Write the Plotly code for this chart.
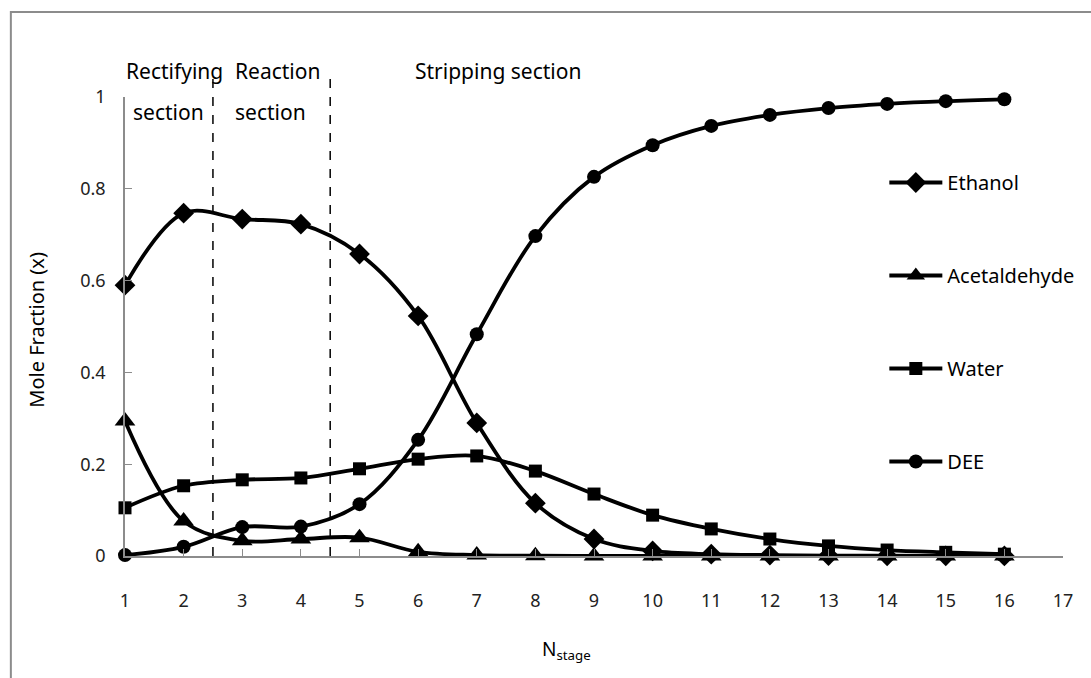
import plotly.graph_objects as go

stages = list(range(1, 17))
ethanol = [0.590, 0.747, 0.734, 0.723, 0.658, 0.523, 0.290, 0.115, 0.037, 0.011, 0.004, 0.002, 0.001, 0.0005, 0.0003, 0.0002]
acetaldehyde = [0.294, 0.076, 0.033, 0.037, 0.040, 0.009, 0.002, 0.0005, 0.0002, 0.0001, 0.0, 0.0, 0.0, 0.0, 0.0, 0.0]
water = [0.105, 0.153, 0.166, 0.170, 0.190, 0.211, 0.218, 0.185, 0.135, 0.089, 0.059, 0.037, 0.022, 0.013, 0.008, 0.004]
dee = [0.002, 0.020, 0.063, 0.064, 0.113, 0.253, 0.483, 0.697, 0.826, 0.895, 0.937, 0.961, 0.976, 0.985, 0.991, 0.995]

series = [
    ("Ethanol", ethanol, "diamond", 16),
    ("Acetaldehyde", acetaldehyde, "triangle-up", 18),
    ("Water", water, "square", 13),
    ("DEE", dee, "circle", 14),
]
section_bounds = [2.5, 4.5]
x_ticks = list(range(1, 18))
y_ticks = [0, 0.2, 0.4, 0.6, 0.8, 1]
y_tick_text = ["0", "0.2", "0.4", "0.6", "0.8", "1"]

FONT = "Noto Sans"
fig = go.Figure()
for name, vals, sym, sz in series:
    fig.add_trace(go.Scatter(
        x=stages, y=vals, name=name, mode="lines+markers",
        line=dict(color="black", width=3.8, shape="spline", smoothing=1.0),
        marker=dict(symbol=sym, size=sz, color="black"),
        cliponaxis=False, legendgroup=name,
    ))

for xb in section_bounds:
    fig.add_shape(type="line", xref="x", yref="paper", x0=xb, x1=xb, y0=0, y1=(556 - 72) / 459,
                  line=dict(color="black", width=1.5, dash="dash"))

# outer frame
fig.add_shape(type="rect", xref="paper", yref="paper",
              x0=(10 - 125) / 945, x1=1.2, y0=-0.5, y1=(556 - 12) / 459,
              line=dict(color="#8c8c8c", width=2), layer="below")

ann_font = dict(family=FONT, size=21, color="black")
def ann(text, px, py, anchor="left"):
    fig.add_annotation(text=text, xref="paper", yref="paper",
                       x=(px - 125) / 945, y=(556 - py) / 459,
                       showarrow=False, font=ann_font, xanchor=anchor, yanchor="middle")

ann("Rectifying", 124, 71)
ann("section", 131, 112)
ann("Reaction", 234, 71)
ann("section", 234, 112)
ann("Stripping section", 415, 71)
fig.add_annotation(text="Mole Fraction (x)", xref="paper", yref="paper",
                   x=(35 - 125) / 945, y=(556 - 330) / 459, textangle=-90,
                   xanchor="center", yanchor="middle",
                   showarrow=False, font=dict(family=FONT, size=20, color="black"))
fig.add_annotation(text="N<sub>stage</sub>", xref="paper", yref="paper",
                   x=(570 - 125) / 945, y=(556 - 650) / 459,
                   xanchor="center", yanchor="middle",
                   showarrow=False, font=dict(family=FONT, size=19, color="black"))

fig.update_layout(
    width=1091, height=678,
    margin=dict(l=125, r=21, t=97, b=122),
    paper_bgcolor="white", plot_bgcolor="white",
    font=dict(family=FONT, size=18, color="#222"),
    showlegend=True,
    legend=dict(x=(890 - 125) / 945, y=(556 - 163) / 459, xanchor="left", yanchor="top",
                font=dict(family=FONT, size=20, color="black"),
                tracegroupgap=64, itemwidth=53, bgcolor="rgba(0,0,0,0)"),
    xaxis=dict(range=[1, 17], tickvals=x_ticks, ticks="inside", ticklen=7,
               tickcolor="#8c8c8c", showline=True, linecolor="#8c8c8c", linewidth=1.5,
               showgrid=False, zeroline=False, ticklabelstandoff=28,
               tickfont=dict(family=FONT, size=18, color="#222")),
    yaxis=dict(range=[0, 1], tickvals=y_ticks, ticktext=y_tick_text, ticks="inside", ticklen=7,
               tickcolor="#8c8c8c", showline=True, linecolor="#8c8c8c", linewidth=1.5,
               showgrid=False, zeroline=False, ticklabelstandoff=14,
               tickfont=dict(family=FONT, size=18, color="#222")),
)
fig.write_html("out.html")
